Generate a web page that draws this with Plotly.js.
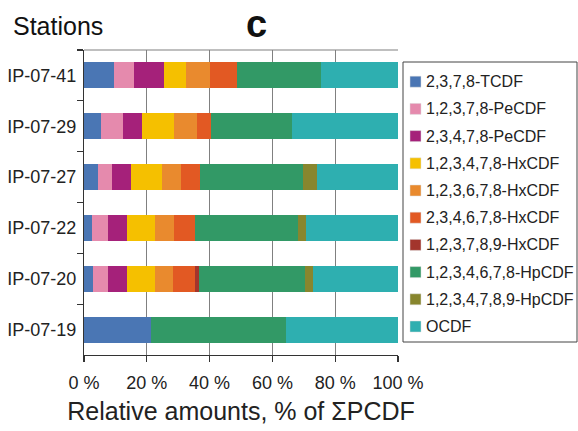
<!DOCTYPE html>
<html><head><meta charset="utf-8">
<script src="https://cdn.plot.ly/plotly-3.0.1.min.js"></script>
<style>html,body{margin:0;padding:0;background:#fff}#chart{width:578px;height:431px}</style>
</head><body><div id="chart"></div>
<script>
const stations = ['IP-07-41','IP-07-29','IP-07-27','IP-07-22','IP-07-20','IP-07-19'];
const congeners = ['2,3,7,8-TCDF','1,2,3,7,8-PeCDF','2,3,4,7,8-PeCDF','1,2,3,4,7,8-HxCDF','1,2,3,6,7,8-HxCDF','2,3,4,6,7,8-HxCDF','1,2,3,7,8,9-HxCDF','1,2,3,4,6,7,8-HpCDF','1,2,3,4,7,8,9-HpCDF','OCDF'];
const colors = ['#4a76b4','#e58aad','#a5217a','#f5c000','#e98a2e','#e25923','#a3352c','#329966','#88862e','#2eafb0'];
// values per congener, ordered as stations
const TCDF    = [9.4, 5.4, 4.6, 2.4, 2.8, 21.3];
const PeCDF1  = [6.4, 6.9, 4.2, 5.3, 4.9, 0];
const PeCDF2  = [9.8, 6.3, 6.3, 6.1, 6.1, 0];
const HxCDF1  = [7.0, 10.1, 9.6, 8.7, 8.7, 0];
const HxCDF2  = [7.4, 7.4, 6.1, 6.3, 5.7, 0];
const HxCDF3  = [8.8, 4.4, 6.3, 6.5, 7.0, 0];
const HxCDF4  = [0, 0, 0, 0, 1.3, 0];
const HpCDF1  = [26.8, 25.8, 32.8, 32.8, 34.0, 42.9];
const HpCDF2  = [0, 0, 4.4, 2.7, 2.5, 0];
const OCDF    = [24.4, 33.7, 25.7, 29.2, 27.0, 35.8];
const series = [TCDF, PeCDF1, PeCDF2, HxCDF1, HxCDF2, HxCDF3, HxCDF4, HpCDF1, HpCDF2, OCDF];
const xTicks = [0,20,40,60,80,100];

const FONT = 'Liberation Sans, Arial, sans-serif';
const L = 84, R = 398, T = 50, B = 355, W = 578, H = 431;
const px = x => (x - L) / (R - L);
const py = y => (B - y) / (B - T);

const traces = series.map((vals, i) => ({
  type: 'bar', orientation: 'h', name: congeners[i],
  y: stations, x: vals,
  marker: {color: colors[i], line: {width: 0}},
  showlegend: false, hoverinfo: 'x+name'
}));

const shapes = [
  {type:'line', xref:'paper', yref:'paper', x0:0, x1:1, y0:1, y1:1, line:{color:'#808080', width:1.2}},
  {type:'rect', xref:'paper', yref:'paper', x0:px(403), x1:px(577), y0:py(62), y1:py(342), line:{color:'#444', width:1}, fillcolor:'rgba(0,0,0,0)'}
];
const annotations = [
  {text:'Stations', xref:'paper', yref:'paper', x:px(11), y:py(26), xanchor:'left', yanchor:'middle', showarrow:false, font:{family:FONT, size:25, color:'#111'}},
  {text:'<b>c</b>', xref:'paper', yref:'paper', x:px(256), y:py(24.5), xanchor:'center', yanchor:'middle', showarrow:false, font:{family:FONT, size:38, color:'#111'}}
];
congeners.forEach((name, i) => {
  const cy = 81.7 + i * 27.2;
  shapes.push({type:'rect', xref:'paper', yref:'paper', x0:px(410), x1:px(421), y0:py(cy-5.5), y1:py(cy+5.5), line:{color:'#ddd', width:0.5}, fillcolor:colors[i]});
  annotations.push({text:name, xref:'paper', yref:'paper', x:px(424), y:py(cy), xanchor:'left', yanchor:'middle', showarrow:false, font:{family:FONT, size:16, color:'#222'}});
});

const layout = {
  width: W, height: H,
  margin: {l: L, r: W - R, t: T, b: H - B, pad: 0},
  paper_bgcolor: '#fff', plot_bgcolor: '#fff',
  barmode: 'stack', bargap: 0.49,
  showlegend: false,
  font: {family: FONT, color: '#222'},
  xaxis: {
    range: [0, 100], tickvals: xTicks, ticktext: xTicks.map(v => v + ' %'),
    showgrid: true, gridcolor: '#808080', gridwidth: 1.3, zeroline: false,
    showline: true, linecolor: '#333', linewidth: 1.2,
    ticks: 'outside', ticklen: 6, tickcolor: '#333', tickwidth: 1.2,
    ticklabelstandoff: 5,
    tickfont: {family: FONT, size: 18, color: '#222'},
    title: {text: 'Relative amounts, % of ΣPCDF', font: {family: FONT, size: 25, color: '#222'}, standoff: 10},
    fixedrange: true
  },
  yaxis: {
    type: 'category', autorange: 'reversed',
    showgrid: false, zeroline: false,
    showline: true, linecolor: '#333', linewidth: 1.2,
    ticks: 'outside', tickson: 'boundaries', ticklen: 6, tickcolor: '#333', tickwidth: 1.2,
    ticklabelstandoff: 3,
    tickfont: {family: FONT, size: 18, color: '#222'},
    fixedrange: true
  },
  shapes: shapes,
  annotations: annotations
};
Plotly.newPlot('chart', traces, layout, {displayModeBar: false, staticPlot: true});
</script></body></html>
